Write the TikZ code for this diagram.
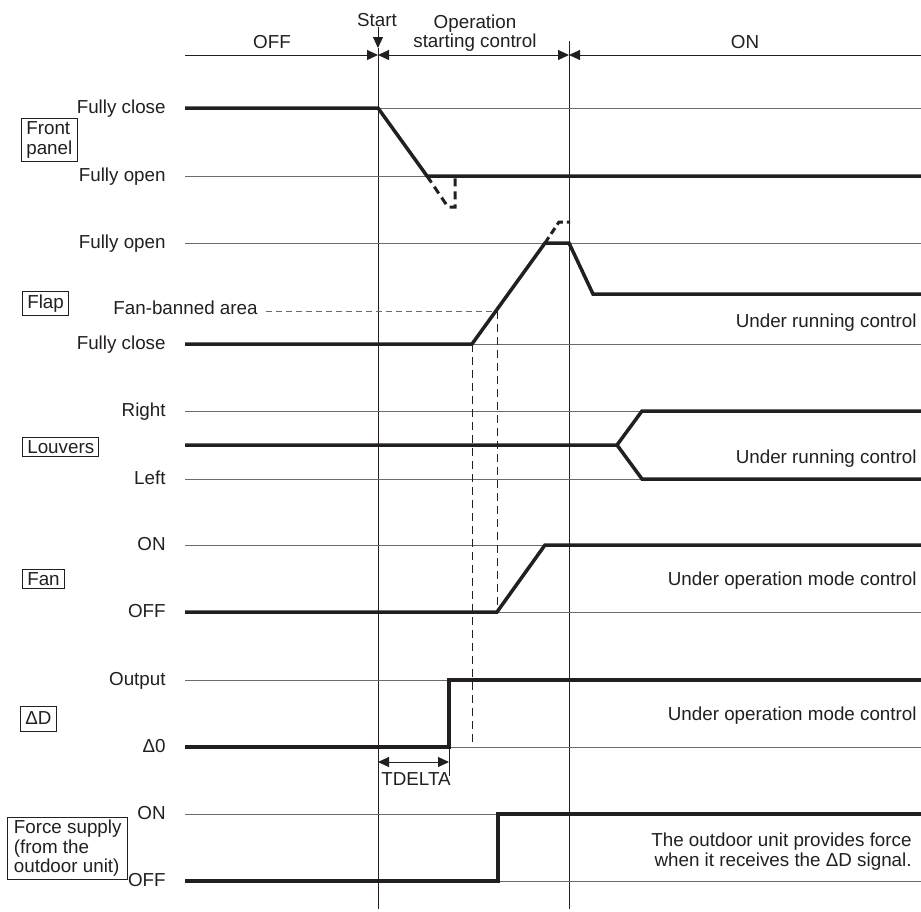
\documentclass[tikz,border=0pt]{standalone}
\usepackage{fontspec}
\setmainfont{Liberation Sans}
\usetikzlibrary{arrows.meta}
\definecolor{ink}{HTML}{231F20}
\definecolor{guide}{HTML}{6B6B6B}
\begin{document}
\begin{tikzpicture}[x=0.5pt,y=-0.5pt,
  every node/.style={font=\fontsize{9.4pt}{9.8pt}\selectfont, text=ink, inner sep=0pt},
  levelline/.style={draw=guide, line width=0.5pt},
  signal/.style={draw=ink, line width=1.75pt, line join=miter, line cap=butt},
  ghost/.style={draw=ink, line width=1.5pt, line cap=butt, dash pattern=on 4pt off 2.5pt},
  phase/.style={draw=ink, line width=0.5pt},
  guidedash/.style={draw=ink, line width=0.45pt, dash pattern=on 4pt off 2.5pt},
  bandash/.style={draw=guide, line width=0.5pt, dash pattern=on 3pt off 2pt},
  lvl/.style={anchor=mid east},
  note/.style={anchor=mid east},
  tag/.style={draw=ink, line width=0.5pt, inner xsep=2.4pt, inner ysep=1.5pt, anchor=west, align=left},
  tip/.style={-{Triangle[length=5.5pt,width=5pt]}},
  tips/.style={{Triangle[length=5.5pt,width=5pt]}-{Triangle[length=5.5pt,width=5pt]}},
  tipback/.style={{Triangle[length=5.5pt,width=5pt]}-}
]
\useasboundingbox (0,0) rectangle (921,911);

% ---- phase header ----
\coordinate (hL) at (185,55);
\coordinate (hS) at (378,55);
\coordinate (hE) at (569,55);
\coordinate (hR) at (921,55);
\draw[phase, tip] (hL) -- (hS);
\draw[phase, tips] (hS) -- (hE);
\draw[phase, tipback] (hE) -- (hR);
\node (offhdr) at (272,42) {OFF};
\node (onhdr) at (745,42) {ON};
\node (starthdr) at (377,20) {Start};
\node[align=center] (ophdr) at (475,33) {Operation\\starting control};
\coordinate (sA) at (378,27);
\coordinate (sB) at (378,48);
\draw[phase, tip] (sA) -- (sB);

% ---- phase boundaries ----
\coordinate (vS1) at (378,48);  \coordinate (vS2) at (378,909);
\coordinate (vE1) at (569,41);  \coordinate (vE2) at (569,909);
\draw[phase] (vS1) -- (vS2);
\draw[phase] (vE1) -- (vE2);

% ---- level guide lines ----
\foreach \yy in {108,176,243,344,411,479,545,612,680,747,814,881}
  \draw[levelline] (185,\yy) -- (921,\yy);

% ---- front panel ----
\node[tag] (tFront) at (21,140) {Front\\panel};
\node[lvl] (fpC) at (166,108) {Fully close};
\node[lvl] (fpO) at (166,176) {Fully open};
\draw[signal] (185,108) -- (378,108) -- (427,176) -- (921,176);
\draw[ghost] (427,176) -- (448,207) -- (455,207) -- (455,176);

% ---- flap ----
\node[tag] (tFlap) at (22,303.5) {Flap};
\node[lvl] (flO) at (166,243) {Fully open};
\node[lvl] (flC) at (166,344) {Fully close};
\node[lvl] (ban) at (258,309) {Fan-banned area};
\coordinate (banL) at (266,311);
\coordinate (banR) at (497,311);
\draw[bandash] (banL) -- (banR);
\draw[signal] (185,344) -- (472,344) -- (545,243) -- (569,243) -- (593,294) -- (921,294);
\draw[ghost, dash pattern=on 3.5pt off 2pt] (545,243) -- (559,222) -- (570,222);
\node[note] (flNote) at (917,322) {Under running control};

% ---- louvers ----
\node[tag] (tLouv) at (22,447) {Louvers};
\node[lvl] (lvR) at (166,411) {Right};
\node[lvl] (lvL) at (166,479) {Left};
\draw[signal] (185,445) -- (617,445) -- (642,411) -- (921,411);
\draw[signal] (617,445) -- (642,479) -- (921,479);
\node[note] (lvNote) at (917,458) {Under running control};

% ---- fan ----
\node[tag] (tFan) at (22,579) {Fan};
\node[lvl] (fnOn) at (166,545) {ON};
\node[lvl] (fnOff) at (166,612) {OFF};
\draw[signal] (185,612) -- (497,612) -- (545,545) -- (921,545);
\node[note] (fnNote) at (917,580) {Under operation mode control};

% ---- delta D ----
\node[tag, minimum height=12.5pt] (tDD) at (20,718.5) {ΔD};
\node[lvl] (ddOut) at (166,680) {Output};
\node[lvl] (dd0) at (166,747) {Δ0};
\draw[signal] (185,747) -- (449,747) -- (449,680) -- (921,680);
\node[note] (ddNote) at (917,715) {Under operation mode control};
\coordinate (tdA) at (378,762);
\coordinate (tdB) at (449,762);
\draw[phase] (449,747) -- (449,776);
\draw[phase, tips] (tdA) -- (tdB);
\node (tdelta) at (416,779) {TDELTA};

% ---- flap timing guides ----
\draw[guidedash] (472,344) -- (472,747);
\draw[guidedash] (banR) -- (497,612);

% ---- force supply ----
\node[tag, inner xsep=3.2pt] (tForce) at (7,848.5) {Force supply\\(from the\\outdoor unit)};
\node[lvl] (fsOn) at (166,814) {ON};
\node[lvl] (fsOff) at (166,881) {OFF};
\draw[signal] (185,881) -- (498,881) -- (498,814) -- (921,814);
\node[align=right, anchor=east, font=\fontsize{9.4pt}{10pt}\selectfont] (fsNote) at (912,852)
  {The outdoor unit provides force\\when it receives the ΔD signal.};

\end{tikzpicture}
\end{document}
